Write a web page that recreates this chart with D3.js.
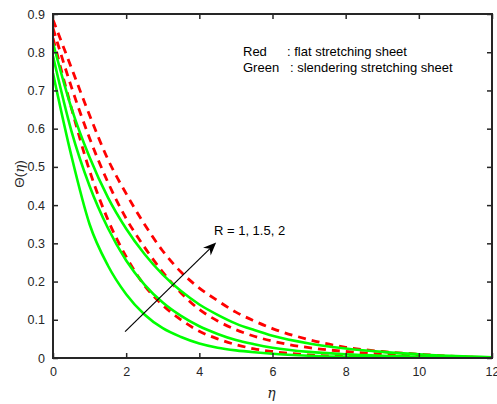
<!DOCTYPE html>
<html><head><meta charset="utf-8">
<script src="https://cdn.jsdelivr.net/npm/d3@7/dist/d3.min.js"></script>
<style>body{margin:0;background:#fff}svg{display:block}</style>
</head><body>
<svg id="chart" width="497" height="404"></svg>
<script>
// ---- data ----
const etaGrid = [0,0.5,1,1.5,2,2.5,3,3.5,4,4.5,5,5.5,6,7,8,9,10,11,12];
// red dashed: flat stretching sheet, R = 1, 1.5, 2
const red1 = [0.837,0.655,0.49,0.362,0.265,0.19,0.138,0.10,0.07,0.05,0.035,0.024,0.017,0.008,0.004,0.002,0.001,0.0005,0];
const red2 = [0.863,0.71,0.575,0.46,0.365,0.29,0.225,0.17,0.127,0.097,0.074,0.057,0.044,0.027,0.017,0.010,0.006,0.003,0.001];
const red3 = [0.885,0.76,0.635,0.52,0.43,0.35,0.28,0.225,0.183,0.15,0.12,0.097,0.077,0.048,0.028,0.017,0.010,0.004,0.001];
// green solid: slendering stretching sheet, R = 1, 1.5, 2
const green1 = [0.745,0.53,0.35,0.242,0.167,0.114,0.078,0.055,0.038,0.027,0.020,0.015,0.011,0.006,0.003,0.002,0.001,0.0005,0];
const green2 = [0.79,0.595,0.45,0.34,0.255,0.192,0.145,0.11,0.083,0.063,0.047,0.036,0.027,0.016,0.010,0.006,0.003,0.0015,0];
const green3 = [0.824,0.655,0.525,0.42,0.338,0.272,0.218,0.175,0.14,0.113,0.09,0.073,0.058,0.038,0.025,0.016,0.010,0.005,0.002];
const xTicks = [0,2,4,6,8,10,12];
const yTicks = [0,0.1,0.2,0.3,0.4,0.5,0.6,0.7,0.8,0.9];
const legendLines = [["Red", ": flat stretching sheet"], ["Green", ": slendering stretching sheet"]];
const annotationText = "R = 1, 1.5, 2";
const arrowFrom = [1.97, 0.069];
const arrowTo = [4.46, 0.302];

// ---- layout ----
const svg = d3.select("#chart");
const L = 53, R = 492, T = 14, B = 358;
const x = d3.scaleLinear().domain([0,12]).range([L,R]);
const y = d3.scaleLinear().domain([0,0.9]).range([B,T]);
const axisColor = "#262626";
const font = "'Liberation Sans', Arial, Helvetica, sans-serif";

svg.append("clipPath").attr("id","clip").append("rect")
  .attr("x",L).attr("y",T).attr("width",R-L).attr("height",B-T);

const line = d3.line().x(d=>x(d[0])).y(d=>y(d[1])).curve(d3.curveMonotoneX);
const plot = svg.append("g").attr("clip-path","url(#clip)");
[red1,red2,red3].forEach(s=>{
  plot.append("path").datum(etaGrid.map((e,i)=>[e,s[i]]))
    .attr("d",line).attr("fill","none").attr("stroke","#ff0000")
    .attr("stroke-width",2.8).attr("stroke-dasharray","8,6");
});
[green1,green2,green3].forEach(s=>{
  plot.append("path").datum(etaGrid.map((e,i)=>[e,s[i]]))
    .attr("d",line).attr("fill","none").attr("stroke","#00ff00")
    .attr("stroke-width",2.6);
});

// ---- axes ----
const tickLen = 5;
const gx = svg.append("g").attr("transform",`translate(0,${B})`)
  .call(d3.axisBottom(x).tickValues(xTicks).tickSize(-tickLen).tickPadding(9).tickFormat(d3.format("d")));
const gy = svg.append("g").attr("transform",`translate(${L},0)`)
  .call(d3.axisLeft(y).tickValues(yTicks).tickSize(-tickLen).tickPadding(8).tickFormat(d=>d===0?"0":d3.format(".1f")(d)));
const gxt = svg.append("g").attr("transform",`translate(0,${T})`)
  .call(d3.axisTop(x).tickValues(xTicks).tickSize(-tickLen).tickFormat(""));
const gyr = svg.append("g").attr("transform",`translate(${R},0)`)
  .call(d3.axisRight(y).tickValues(yTicks).tickSize(-tickLen).tickFormat(""));
[gx,gy,gxt,gyr].forEach(g=>{
  g.select(".domain").attr("d",null);
  g.selectAll(".tick line").attr("stroke",axisColor).attr("stroke-width",1.5);
  g.selectAll(".tick text").attr("fill",axisColor).style("font-family",font).style("font-size","12.5px");
});
svg.append("rect").attr("x",L).attr("y",T).attr("width",R-L).attr("height",B-T)
  .attr("fill","none").attr("stroke",axisColor).attr("stroke-width",2);

// axis titles
svg.append("text").attr("x",(L+R)/2-1).attr("y",398).attr("text-anchor","middle")
  .style("font-family","'DejaVu Serif', 'Liberation Serif', serif").style("font-style","italic")
  .style("font-size","14px").attr("fill",axisColor).text("η");
const yt = svg.append("text").attr("transform","translate(24,174) rotate(-90)").attr("text-anchor","middle")
  .style("font-family",font).style("font-size","13.5px").attr("fill",axisColor);
yt.append("tspan").text("Θ(");
yt.append("tspan").style("font-family","'DejaVu Serif', serif").style("font-style","italic").text("η");
yt.append("tspan").text(")");

// legend text
const lg = svg.append("g").style("font-family",font).style("font-size","13px").attr("fill","#000");
legendLines.forEach((d,i)=>{
  lg.append("text").attr("x",243).attr("y",56+i*16).text(d[0]);
  lg.append("text").attr("x",i===0?287:290).attr("y",56+i*16).text(d[1]);
});

// annotation arrow
const ax0 = x(arrowFrom[0]), ay0 = y(arrowFrom[1]), ax1 = x(arrowTo[0]), ay1 = y(arrowTo[1]);
const ang = Math.atan2(ay1-ay0, ax1-ax0);
const hl = 13, hw = 5.5, notch = 9;
const ux = Math.cos(ang), uy = Math.sin(ang), px = -uy, py = ux;
svg.append("line").attr("x1",ax0).attr("y1",ay0).attr("x2",ax1-ux*notch).attr("y2",ay1-uy*notch)
  .attr("stroke","#000").attr("stroke-width",1.2);
const head = [[ax1,ay1],[ax1-ux*hl+px*hw, ay1-uy*hl+py*hw],[ax1-ux*notch, ay1-uy*notch],[ax1-ux*hl-px*hw, ay1-uy*hl-py*hw]];
svg.append("path").attr("d","M"+head.map(p=>p.join(",")).join("L")+"Z").attr("fill","#000");
svg.append("text").attr("x",x(4.4)).attr("y",y(0.322)).style("font-family",font).style("font-size","13px")
  .attr("fill","#000").text(annotationText);
</script>
</body></html>
